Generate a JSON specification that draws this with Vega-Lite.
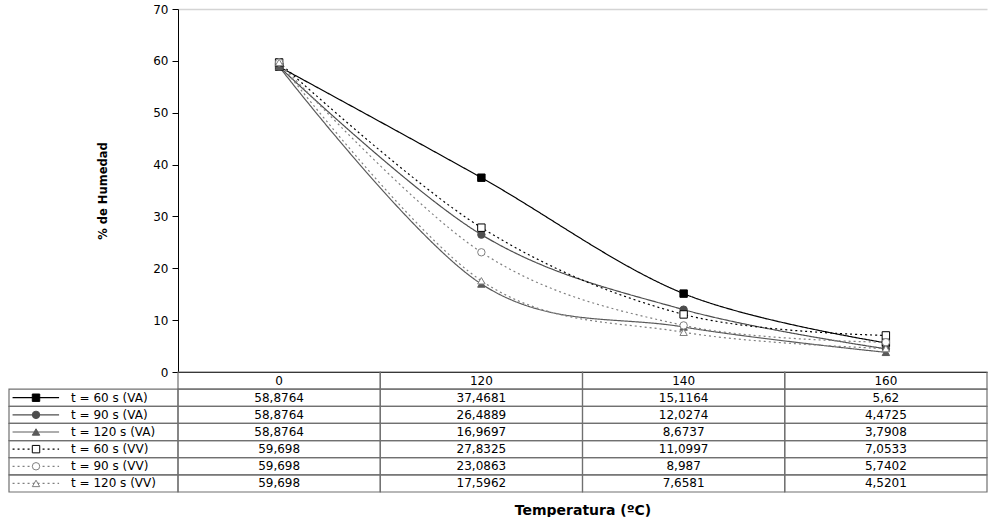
{
  "$schema": "https://vega.github.io/schema/vega-lite/v6.json",
  "padding": {"left": 8, "top": 3, "right": 0, "bottom": 0},
  "background": "white",
  "config": {
    "view": {"stroke": null},
    "font": "DejaVu Sans",
    "locale": {"number": {"decimal": ",", "thousands": ".", "grouping": [3], "currency": ["", " €"]}}
  },
  "bounds": "flush",
  "spacing": 0,
  "resolve": {"scale": {"x": "independent", "y": "independent"}},
  "datasets": {
    "hum": [
      {"serie": "t = 60 s (VA)", "temp": 0, "humedad": 58.8764},
      {"serie": "t = 60 s (VA)", "temp": 120, "humedad": 37.4681},
      {"serie": "t = 60 s (VA)", "temp": 140, "humedad": 15.1164},
      {"serie": "t = 60 s (VA)", "temp": 160, "humedad": 5.62},
      {"serie": "t = 90 s (VA)", "temp": 0, "humedad": 58.8764},
      {"serie": "t = 90 s (VA)", "temp": 120, "humedad": 26.4889},
      {"serie": "t = 90 s (VA)", "temp": 140, "humedad": 12.0274},
      {"serie": "t = 90 s (VA)", "temp": 160, "humedad": 4.4725},
      {"serie": "t = 120 s (VA)", "temp": 0, "humedad": 58.8764},
      {"serie": "t = 120 s (VA)", "temp": 120, "humedad": 16.9697},
      {"serie": "t = 120 s (VA)", "temp": 140, "humedad": 8.6737},
      {"serie": "t = 120 s (VA)", "temp": 160, "humedad": 3.7908},
      {"serie": "t = 60 s (VV)", "temp": 0, "humedad": 59.698},
      {"serie": "t = 60 s (VV)", "temp": 120, "humedad": 27.8325},
      {"serie": "t = 60 s (VV)", "temp": 140, "humedad": 11.0997},
      {"serie": "t = 60 s (VV)", "temp": 160, "humedad": 7.0533},
      {"serie": "t = 90 s (VV)", "temp": 0, "humedad": 59.698},
      {"serie": "t = 90 s (VV)", "temp": 120, "humedad": 23.0863},
      {"serie": "t = 90 s (VV)", "temp": 140, "humedad": 8.987},
      {"serie": "t = 90 s (VV)", "temp": 160, "humedad": 5.7402},
      {"serie": "t = 120 s (VV)", "temp": 0, "humedad": 59.698},
      {"serie": "t = 120 s (VV)", "temp": 120, "humedad": 17.5962},
      {"serie": "t = 120 s (VV)", "temp": 140, "humedad": 7.6581},
      {"serie": "t = 120 s (VV)", "temp": 160, "humedad": 4.5201}
    ]
  },
  "vconcat": [
    {
      "width": 809,
      "height": 363,
      "data": {"name": "hum"},
      "layer": [
        {"mark": {"type": "line", "interpolate": "cardinal", "strokeWidth": 1.2},
          "encoding": {
            "x": {"field": "temp", "type": "ordinal",
              "scale": {"type": "point", "padding": 0.5, "domain": [0, 120, 140, 160]},
              "axis": {"title": null, "labels": false, "ticks": false, "grid": false, "domainColor": "#000000", "domainWidth": 1}},
            "y": {"field": "humedad", "type": "quantitative",
              "scale": {"domain": [0, 70], "nice": false},
              "axis": {"title": "% de Humedad", "values": [0, 10, 20, 30, 40, 50, 60, 70], "grid": true,
                "gridColor": {"condition": {"test": "datum.value === 70", "value": "#d4d4d4"}, "value": "transparent"}, "gridWidth": 1.5,
                "domainColor": "#000000", "tickColor": "#000000", "tickSize": 6,
                "labelFontSize": 12, "labelPadding": 4, "labelColor": "#000000", "labelFont": "DejaVu Sans",
                "titleFont": "DejaVu Sans", "titleFontSize": 11.5, "titleFontWeight": "bold", "titleColor": "#000000", "titlePadding": 44}},
            "color": {"field": "serie", "type": "nominal", "legend": null,
              "scale": {"domain": ["t = 60 s (VA)", "t = 90 s (VA)", "t = 120 s (VA)", "t = 60 s (VV)", "t = 90 s (VV)", "t = 120 s (VV)"],
                "range": ["#000000", "#4d4d4d", "#5a5a5a", "#000000", "#808080", "#808080"]}},
            "strokeDash": {"field": "serie", "type": "nominal", "legend": null,
              "scale": {"domain": ["t = 60 s (VA)", "t = 90 s (VA)", "t = 120 s (VA)", "t = 60 s (VV)", "t = 90 s (VV)", "t = 120 s (VV)"],
                "range": [[1, 0], [1, 0], [1, 0], [2, 3], [2, 3], [2, 3]]}}
          }},
        {"mark": {"type": "point", "filled": true, "size": 55, "strokeWidth": 1, "opacity": 1},
          "encoding": {
            "x": {"field": "temp", "type": "ordinal"},
            "y": {"field": "humedad", "type": "quantitative"},
            "shape": {"field": "serie", "type": "nominal", "legend": null,
              "scale": {"domain": ["t = 60 s (VA)", "t = 90 s (VA)", "t = 120 s (VA)", "t = 60 s (VV)", "t = 90 s (VV)", "t = 120 s (VV)"],
                "range": ["square", "circle", "triangle-up", "square", "circle", "triangle-up"]}},
            "fill": {"field": "serie", "type": "nominal", "legend": null,
              "scale": {"domain": ["t = 60 s (VA)", "t = 90 s (VA)", "t = 120 s (VA)", "t = 60 s (VV)", "t = 90 s (VV)", "t = 120 s (VV)"],
                "range": ["#000000", "#4d4d4d", "#5a5a5a", "#ffffff", "#ffffff", "#ffffff"]}},
            "stroke": {"field": "serie", "type": "nominal", "legend": null,
              "scale": {"domain": ["t = 60 s (VA)", "t = 90 s (VA)", "t = 120 s (VA)", "t = 60 s (VV)", "t = 90 s (VV)", "t = 120 s (VV)"],
                "range": ["#000000", "#4d4d4d", "#5a5a5a", "#000000", "#808080", "#808080"]}}
          }}
      ]
    },
    {
      "width": 809,
      "height": 120,
      "data": {"name": "hum"},
      "resolve": {"scale": {"x": "independent"}},
      "layer": [
        {
          "encoding": {
            "x": {"field": "temp", "type": "ordinal",
              "scale": {"type": "band", "domain": [0, 120, 140, 160], "paddingInner": 0, "paddingOuter": 0},
              "axis": {"title": "Temperatura (ºC)", "labels": false, "ticks": false, "domain": false, "grid": false,
                "titleFont": "DejaVu Sans", "titleFontSize": 14, "titleFontWeight": "bold", "titleColor": "#000000", "titlePadding": 11}}
          },
          "layer": [
            {"mark": {"type": "rect", "fill": "#ffffff", "fillOpacity": 0, "stroke": "#707070", "strokeWidth": 1.2},
              "encoding": {
                "y": {"field": "serie", "type": "nominal",
                  "scale": {"type": "band", "domain": ["hdr", "t = 60 s (VA)", "t = 90 s (VA)", "t = 120 s (VA)", "t = 60 s (VV)", "t = 90 s (VV)", "t = 120 s (VV)"], "paddingInner": 0, "paddingOuter": 0},
                  "axis": null}
              }},
            {"transform": [{"filter": "datum.serie === 't = 60 s (VA)'"}],
              "mark": {"type": "rect", "fill": "#ffffff", "fillOpacity": 0, "stroke": "#707070", "strokeWidth": 1.2},
              "encoding": {"y": {"datum": "hdr", "type": "nominal"}}},
            {"transform": [{"filter": "datum.serie === 't = 60 s (VA)'"}],
              "mark": {"type": "text", "fontSize": 12, "color": "#000000", "baseline": "middle", "align": "center"},
              "encoding": {"y": {"datum": "hdr", "type": "nominal", "bandPosition": 0.5}, "x": {"field": "temp", "type": "ordinal", "bandPosition": 0.5}, "text": {"field": "temp", "type": "ordinal"}}},
            {"mark": {"type": "text", "fontSize": 12, "color": "#000000", "baseline": "middle", "align": "center"},
              "encoding": {
                "x": {"field": "temp", "type": "ordinal", "bandPosition": 0.5},
                "y": {"field": "serie", "type": "nominal", "bandPosition": 0.5},
                "text": {"field": "humedad", "type": "quantitative", "format": "~g"}
              }}
          ]
        },
        {
          "transform": [{"filter": "datum.temp === 0"}],
          "layer": [
            {"mark": {"type": "rect", "fill": "#ffffff", "fillOpacity": 0, "stroke": "#707070", "strokeWidth": 1.2},
              "encoding": {
                "x": {"datum": -0.8356, "type": "quantitative", "scale": {"domain": [0, 4], "nice": false, "zero": false}, "axis": null},
                "x2": {"datum": 0},
                "y": {"field": "serie", "type": "nominal"}
              }},
            {"mark": {"type": "rule", "strokeWidth": 1.2},
              "encoding": {
                "x": {"datum": -0.818, "type": "quantitative", "scale": {"domain": [0, 4], "nice": false, "zero": false}, "axis": null},
                "x2": {"datum": -0.588},
                "y": {"field": "serie", "type": "nominal", "bandPosition": 0.5},
                "color": {"field": "serie", "type": "nominal", "legend": null,
                  "scale": {"domain": ["t = 60 s (VA)", "t = 90 s (VA)", "t = 120 s (VA)", "t = 60 s (VV)", "t = 90 s (VV)", "t = 120 s (VV)"],
                    "range": ["#000000", "#4d4d4d", "#5a5a5a", "#000000", "#808080", "#808080"]}},
                "strokeDash": {"field": "serie", "type": "nominal", "legend": null,
                  "scale": {"domain": ["t = 60 s (VA)", "t = 90 s (VA)", "t = 120 s (VA)", "t = 60 s (VV)", "t = 90 s (VV)", "t = 120 s (VV)"],
                    "range": [[1, 0], [1, 0], [1, 0], [3, 3], [3, 3], [3, 3]]}}
              }},
            {"mark": {"type": "point", "filled": true, "size": 55, "strokeWidth": 1, "opacity": 1},
              "encoding": {
                "x": {"datum": -0.702, "type": "quantitative", "scale": {"domain": [0, 4], "nice": false, "zero": false}, "axis": null},
                "y": {"field": "serie", "type": "nominal", "bandPosition": 0.5},
                "shape": {"field": "serie", "type": "nominal", "legend": null,
                  "scale": {"domain": ["t = 60 s (VA)", "t = 90 s (VA)", "t = 120 s (VA)", "t = 60 s (VV)", "t = 90 s (VV)", "t = 120 s (VV)"],
                    "range": ["square", "circle", "triangle-up", "square", "circle", "triangle-up"]}},
                "fill": {"field": "serie", "type": "nominal", "legend": null,
                  "scale": {"domain": ["t = 60 s (VA)", "t = 90 s (VA)", "t = 120 s (VA)", "t = 60 s (VV)", "t = 90 s (VV)", "t = 120 s (VV)"],
                    "range": ["#000000", "#4d4d4d", "#5a5a5a", "#ffffff", "#ffffff", "#ffffff"]}},
                "stroke": {"field": "serie", "type": "nominal", "legend": null,
                  "scale": {"domain": ["t = 60 s (VA)", "t = 90 s (VA)", "t = 120 s (VA)", "t = 60 s (VV)", "t = 90 s (VV)", "t = 120 s (VV)"],
                    "range": ["#000000", "#4d4d4d", "#5a5a5a", "#000000", "#808080", "#808080"]}}
              }},
            {"mark": {"type": "text", "fontSize": 12, "color": "#000000", "align": "left", "baseline": "middle"},
              "encoding": {
                "x": {"datum": -0.529, "type": "quantitative", "scale": {"domain": [0, 4], "nice": false, "zero": false}, "axis": null},
                "y": {"field": "serie", "type": "nominal", "bandPosition": 0.5},
                "text": {"field": "serie", "type": "nominal"}
              }}
          ]
        }
      ]
    }
  ]
}
